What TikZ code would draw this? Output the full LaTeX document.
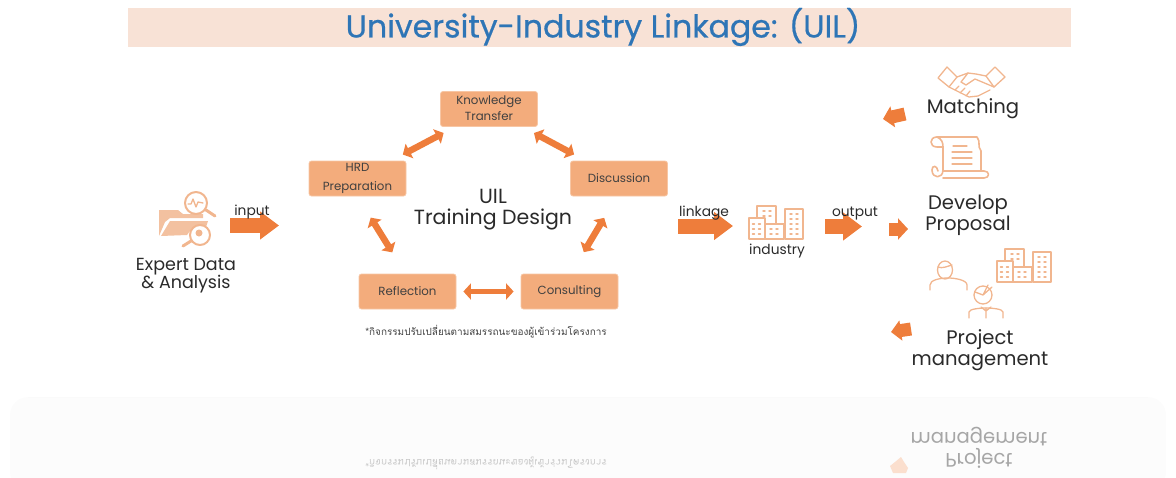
\documentclass[tikz,border=0pt]{standalone}
\usepackage{fontspec}
\setmainfont{Poppins}
\newfontfamily\thaifont[Script=Thai]{Loma}
\newfontfamily\titlefont[FakeBold=0.6]{Poppins}
\usetikzlibrary{arrows.meta}
\definecolor{boxfill}{HTML}{F3AC7C}
\definecolor{boxedge}{HTML}{F7C6A4}
\definecolor{arrowc}{HTML}{EE7D3B}
\definecolor{iconc}{HTML}{F1B68F}
\definecolor{titlebg}{HTML}{F8E2D6}
\definecolor{titlec}{HTML}{2E75B6}
\definecolor{inkc}{HTML}{2A2A2A}
\tikzset{
  stagebox/.style={draw=boxedge,line width=.8pt,fill=boxfill,rounded corners=2.5pt,minimum width=97pt,minimum height=35pt,inner sep=0pt,font=\fontsize{11.8}{18}\selectfont,text=black!75,align=center},
  biglabel/.style={font=\fontsize{19.6}{21}\selectfont,text=inkc,align=center,inner sep=0pt},
  smalllabel/.style={font=\fontsize{13.8}{15}\selectfont,text=inkc,inner sep=0pt},
  linkarrow/.style={draw=arrowc,line width=6.5pt,{Triangle[width=16pt,length=7.5pt]}-{Triangle[width=16pt,length=7.5pt]}},
  flowarrow/.style={draw=arrowc,line width=15pt,-{Triangle[width=27pt,length=19pt]}},
  tinyarrow/.style={draw=arrowc,line width=13pt,-{Triangle[width=22pt,length=10pt]}},
  iconline/.style={draw=iconc,line width=1.3pt,line cap=round,line join=round,fill=none},
  iconthick/.style={draw=iconc,line width=2pt,line cap=round,line join=round,fill=none},
  ghost/.style={transform shape,yscale=-1,text=black!35,inner sep=0pt},
  pics/towers/.style={code={
    \draw[iconline] (0,0) rectangle (16,-21);
    \draw[iconline] (8,-21) -- (8,-33) -- (27,-33) -- (27,-15);
    \draw[iconline] (16,0) rectangle (35,-15);
    \draw[iconline] (36,0) -- (36,-30) -- (54,-30) -- (54,0) -- cycle;
    \foreach \xx in {3.5,9.5}{\foreach \yy in {-5,-10,-15}{\draw[iconline,line width=1.4pt] (\xx,\yy) -- ++(2,0);}}
    \foreach \xx in {14,20}{\foreach \yy in {-28,-23}{\draw[iconline,line width=1.4pt] (\xx,\yy) -- ++(2,0);}}
    \foreach \xx in {21,27}{\foreach \yy in {-5,-10}{\draw[iconline,line width=1.4pt] (\xx,\yy) -- ++(2,0);}}
    \foreach \xx in {41,47}{\foreach \yy in {-5,-10,-15,-20,-25}{\draw[iconline,line width=1.4pt] (\xx,\yy) -- ++(2,0);}}
  }}
}
\begin{document}
\begin{tikzpicture}[x=1pt,y=-1pt]
\useasboundingbox (0,0) rectangle (1176,477);
% reflection panel
\fill[black!1.2,rounded corners=18pt] (10,397) rectangle (1166,490);
\draw[black!2] (28,397) -- (1148,397);
% title
\fill[titlebg] (128,8) rectangle (1071,47);
\node[font=\titlefont\fontsize{31.6}{36}\selectfont,text=titlec,inner sep=0pt] (title) at (603,27) {University-Industry Linkage: (UIL)};
% cycle boxes
\node[stagebox] (know) at (489,109) {Knowledge\\[-1pt]\raisebox{1pt}{Transfer}};
\node[stagebox] (hrd) at (357.5,178.5) {\raisebox{-2pt}{HRD}\\[1pt]\raisebox{-2pt}{Preparation}};
\node[stagebox] (disc) at (619,178.5) {Discussion};
\node[stagebox] (refl) at (407.5,291.5) {Reflection};
\node[stagebox] (cons) at (569.5,291.5) {Consulting};
\node[font=\fontsize{20.5}{21.5}\selectfont,text=inkc,align=center,inner sep=0pt] (design) at (493,209.5) {UIL\\Training Design};
\draw[linkarrow,shorten <=13pt,shorten >=13pt] (know) -- (hrd);
\draw[linkarrow,shorten <=13pt,shorten >=13pt] (know) -- (disc);
\coordinate (dsc) at ([xshift=-2pt]disc.south); \coordinate (csc) at ([xshift=1.5pt]cons.north);
\draw[linkarrow,shorten <=25pt,shorten >=25pt] (dsc) -- (csc);
\coordinate (hsd) at (hrd.south); \coordinate (rsd) at ([xshift=-2pt]refl.north);
\draw[linkarrow,shorten <=25pt,shorten >=25pt] (hsd) -- (rsd);
\draw[linkarrow,line width=5pt,shorten <=7pt,shorten >=7pt] (refl) -- (cons);
% thai note
\node[font=\thaifont\fontsize{9.95}{11}\selectfont,text=black!75,inner sep=0pt] (note) at (486,332) {*กิจกรรมปรับเปลี่ยนตามสมรรถนะของผู้เข้าร่วมโครงการ};
% folder icon
\fill[iconc!85] (159,210) -- (178,210) -- (183,214) -- (203,214) -- (203,218) -- (170,218) -- (165,222) -- (159,236) -- cycle;
\fill[iconc!85] (170,221) -- (208,221) -- (206,227) -- (193,227) -- (187,235) -- (161,236) -- cycle;
\draw[iconthick,fill=white] (196,203) circle (11);
\draw[iconline] (188,204) -- (191,204) -- (193,199) -- (196,207) -- (198,202) -- (203,203);
\draw[iconc,line width=3pt,line cap=round] (206,210) -- (215,216);
\draw[iconthick,fill=white] (200,235) circle (10);
\fill[iconc] (199,233) circle (3.5);
\draw[iconc,line width=3pt,line cap=round] (191,241) -- (183,246);
\node[smalllabel,align=center,font=\fontsize{17.5}{18}\selectfont] (expert) at (186,275.5) {Expert Data\\\& Analysis};
% flow
\coordinate (inA) at (230,225.5); \coordinate (inB) at (279,225.5);
\draw[flowarrow] (inA) -- (inB);
\node[smalllabel] (input) at (252,212.5) {input};
\coordinate (lkA) at (678,226); \coordinate (lkB) at (733,226);
\draw[flowarrow] (lkA) -- (lkB);
\node[smalllabel] (linkage) at (704,213) {linkage};
\pic at (749,239) {towers};
\node[smalllabel] (industry) at (777,251) {industry};
\coordinate (ouA) at (825,226.5); \coordinate (ouB) at (862,226.5);
\draw[flowarrow] (ouA) -- (ouB);
\node[smalllabel] (output) at (855,214) {output};
% right arrows
\coordinate (t1A) at (905,114); \coordinate (t1B) at (883,119);
\draw[tinyarrow,-{Triangle[width=21pt,length=10pt]}] (t1A) -- (t1B);
\coordinate (t2A) at (889,229); \coordinate (t2B) at (908,229);
\draw[tinyarrow,-{Triangle[width=21pt,length=10pt]}] (t2A) -- (t2B);
\coordinate (t3A) at (911,329); \coordinate (t3B) at (891,332);
\draw[tinyarrow,-{Triangle[width=20pt,length=10pt]}] (t3A) -- (t3B);
% handshake
\begin{scope}[iconline]
\draw (938,78) -- (947,67) -- (957,77) -- (949,87) -- cycle;
\draw (1005,77) -- (995,67) -- (986,76) -- (994,87) -- cycle;
\draw (957,77) -- (968,73) -- (976,74) -- (986,76);
\draw (968,73) -- (961,82) -- (966,85) -- (975,79) -- (994,87);
\draw (949,87) -- (969,97) -- (978,96) -- (990,90);
\draw (955,90) -- (959,86) (960,93) -- (965,88) (966,96) -- (970,91);
\end{scope}
\node[biglabel] (match) at (973,109) {Matching};
% scroll
\begin{scope}[iconthick,line width=1.6pt]
\draw (937,137) -- (977,137) .. controls (981,142) and (977,146) .. (981,151) -- (981,171);
\draw (937,137) .. controls (929,137) and (929,147) .. (937,147) -- (943,147);
\draw (937,137) .. controls (942,139) and (943,143) .. (943,147) -- (943,170);
\draw (943,170) .. controls (943,179) and (932,179) .. (932,170) .. controls (932,165) and (937,165) .. (938,171);
\draw (943,178) -- (984,178) .. controls (990,178) and (990,171) .. (984,171) -- (943,171);
\draw[line width=1.3pt] (953,146) -- (967,146) (952,152) -- (972,152) (952,158) -- (972,158) (952,164) -- (972,164);
\end{scope}
\node[biglabel] (devel) at (968,215) {Develop\\Proposal};
% people and buildings
\pic at (997,282) {towers};
\begin{scope}[iconline]
\draw (945,270) ellipse (7.5 and 9);
\draw (938,267) .. controls (942,269) and (948,266) .. (952,265);
\draw (930,290) -- (930,285) .. controls (930,280) and (940,278) .. (948,278) .. controls (955,278) and (967,280) .. (967,285) -- (967,290);
\draw (983,295) ellipse (9 and 9);
\draw (975,292) -- (983,295) -- (992,287) (983,295) -- (988,285);
\draw (969,318) -- (969,312) .. controls (969,309) and (980,308) .. (986,308) .. controls (992,308) and (1003,309) .. (1003,312) -- (1003,318);
\draw (986,308) -- (986,318) (981,307) -- (986,311) -- (991,307);
\end{scope}
\node[biglabel] (proj) at (980,350) {Project\\management};
% reflection
\node[ghost,font=\fontsize{19.6}{21}\selectfont,align=center] (ghosta) at (979,448) {Project\\management};
\node[ghost,font=\thaifont\fontsize{9.95}{11}\selectfont,text=black!22] (ghostb) at (486,463) {*กิจกรรมปรับเปลี่ยนตามสมรรถนะของผู้เข้าร่วมโครงการ};
\fill[arrowc!25] (901,457) -- (904,462) -- (908,468) -- (906,473) -- (893,473) -- (890,466) -- (895,462) -- cycle;
\end{tikzpicture}
\end{document}
